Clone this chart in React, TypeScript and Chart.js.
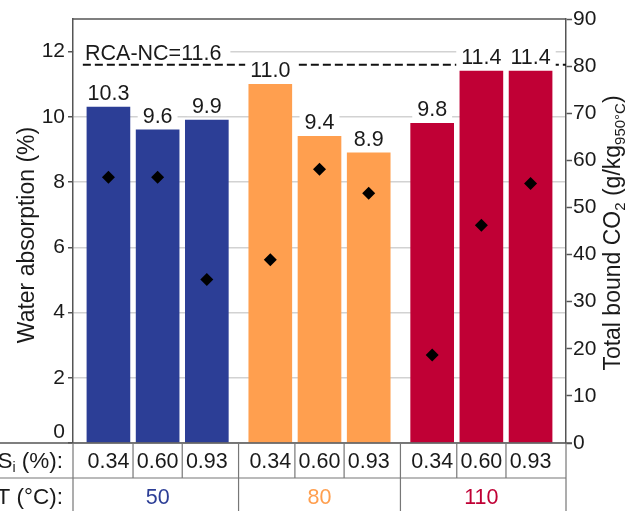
import React, { useEffect, useRef } from 'react';
import { Chart, registerables } from 'chart.js';

Chart.register(...registerables);

// ---------- data ----------
const TEMPERATURES = ['50', '80', '110'];
const SI_LEVELS = ['0.34', '0.60', '0.93'];
const WATER_ABSORPTION = [10.3, 9.6, 9.9, 11.0, 9.4, 8.9, 9.8, 11.4, 11.4];
const BOUND_CO2 = [56.4, 56.4, 34.7, 38.9, 58.1, 53.0, 18.7, 46.2, 55.1];
const RCA_NC = 11.6;
const LEFT_TICKS = [0, 2, 4, 6, 8, 10, 12];
const RIGHT_TICKS = [0, 10, 20, 30, 40, 50, 60, 70, 80, 90];

// ---------- styles / layout ----------
const GROUP_COLORS = ['#2c3e96', '#ff9f4f', '#c00035'];
const FONT = "'Liberation Sans', Arial, sans-serif";
const TEXT = '#1a1a1a';
const AXIS = '#555';
const LABEL_SIZE = 21.5;
const GROUP_GAP = 0.29;
const EDGE = 0.72;

const N_PER_GROUP = SI_LEVELS.length;
const pos = (i: number) => i + Math.floor(i / N_PER_GROUP) * GROUP_GAP;
const X_MIN = -EDGE;
const X_MAX = pos(WATER_ABSORPTION.length - 1) + EDGE;

type Part = { t: string; size: number; dy: number };

function richWidth(ctx: CanvasRenderingContext2D, parts: Part[]) {
  let w = 0;
  parts.forEach((p) => {
    ctx.font = `${p.size}px ${FONT}`;
    w += ctx.measureText(p.t).width;
  });
  return w;
}

function drawRich(
  ctx: CanvasRenderingContext2D,
  parts: Part[],
  x: number,
  y: number,
  rot: number,
  align: 'center' | 'right',
  color: string
) {
  ctx.save();
  ctx.translate(x, y);
  ctx.rotate(rot);
  const total = richWidth(ctx, parts);
  let cx = align === 'center' ? -total / 2 : -total;
  ctx.textAlign = 'left';
  ctx.textBaseline = 'alphabetic';
  ctx.fillStyle = color;
  parts.forEach((p) => {
    ctx.font = `${p.size}px ${FONT}`;
    ctx.fillText(p.t, cx, p.dy);
    cx += ctx.measureText(p.t).width;
  });
  ctx.restore();
}

const overlay = {
  id: 'overlay',
  afterDatasetsDraw(chart: any) {
    const ctx: CanvasRenderingContext2D = chart.ctx;
    const { left } = chart.chartArea;
    const meta = chart.getDatasetMeta(1);
    ctx.save();
    ctx.font = `${LABEL_SIZE}px ${FONT}`;
    ctx.textBaseline = 'alphabetic';
    ctx.textAlign = 'center';
    meta.data.forEach((bar: any, i: number) => {
      const text = WATER_ABSORPTION[i].toFixed(1);
      const w = ctx.measureText(text).width;
      const base = bar.y - 7;
      ctx.fillStyle = '#fff';
      ctx.fillRect(bar.x - w / 2 - 5, base - 19, w + 10, 22);
      ctx.fillStyle = TEXT;
      ctx.fillText(text, bar.x, base);
    });
    // reference label
    const yRef = chart.scales.y.getPixelForValue(RCA_NC);
    const label = `RCA-NC=${RCA_NC.toFixed(1)}`;
    const lw = ctx.measureText(label).width;
    const lx = left + 12;
    const lb = yRef - 5;
    ctx.fillStyle = '#fff';
    ctx.fillRect(left + 1, lb - 18, lx - left + lw + 8, 20);
    ctx.textAlign = 'left';
    ctx.fillStyle = TEXT;
    ctx.fillText(label, lx, lb);
    ctx.restore();
  },
  afterDraw(chart: any) {
    const ctx: CanvasRenderingContext2D = chart.ctx;
    const { left, right, top, bottom } = chart.chartArea;
    const H = chart.height;
    const xs = chart.scales.x;
    const row1 = bottom + 35;
    ctx.save();
    // top border
    ctx.strokeStyle = AXIS;
    ctx.lineWidth = 1.5;
    ctx.beginPath();
    ctx.moveTo(left, top);
    ctx.lineTo(right, top);
    ctx.stroke();
    // table lines
    ctx.beginPath();
    ctx.moveTo(0, bottom);
    ctx.lineTo(right + 6, bottom);
    ctx.stroke();
    ctx.strokeStyle = '#777';
    ctx.lineWidth = 1.2;
    ctx.beginPath();
    ctx.moveTo(0, row1);
    ctx.lineTo(right, row1);
    ctx.moveTo(left, bottom);
    ctx.lineTo(left, H);
    ctx.moveTo(right, bottom);
    ctx.lineTo(right, H);
    for (let i = 0; i < WATER_ABSORPTION.length - 1; i++) {
      const mid = xs.getPixelForValue((pos(i) + pos(i + 1)) / 2);
      const groupEnd = (i + 1) % N_PER_GROUP === 0;
      ctx.moveTo(mid, bottom);
      ctx.lineTo(mid, groupEnd ? H : row1);
    }
    ctx.stroke();
    // table text
    ctx.font = `${LABEL_SIZE}px ${FONT}`;
    ctx.textAlign = 'center';
    ctx.textBaseline = 'alphabetic';
    ctx.fillStyle = TEXT;
    WATER_ABSORPTION.forEach((_, i) => {
      ctx.fillText(SI_LEVELS[i % N_PER_GROUP], xs.getPixelForValue(pos(i)), bottom + 25);
    });
    TEMPERATURES.forEach((t, g) => {
      ctx.fillStyle = GROUP_COLORS[g];
      ctx.fillText(t, xs.getPixelForValue(pos(g * N_PER_GROUP + 1)), row1 + 26);
    });
    // row labels
    drawRich(
      ctx,
      [
        { t: 'S', size: 22.5, dy: 0 },
        { t: 'i', size: 14, dy: 4 },
        { t: ' (%):', size: 22.5, dy: 0 },
      ],
      63,
      bottom + 25,
      0,
      'right',
      TEXT
    );
    drawRich(ctx, [{ t: 'T (°C):', size: 22.5, dy: 0 }], 63, row1 + 26, 0, 'right', TEXT);
    // left zero label (sits above the table line)
    ctx.font = `21px ${FONT}`;
    ctx.textAlign = 'right';
    ctx.textBaseline = 'alphabetic';
    ctx.fillStyle = TEXT;
    ctx.fillText('0', 65, bottom - 5);
    // axis titles
    const cy = (top + bottom) / 2;
    drawRich(ctx, [{ t: 'Water absorption (%)', size: 23, dy: 0 }], 34, cy + 4, -Math.PI / 2, 'center', TEXT);
    drawRich(
      ctx,
      [
        { t: 'Total bound CO', size: 23, dy: 0 },
        { t: '2', size: 15, dy: 5 },
        { t: ' (g/kg', size: 23, dy: 0 },
        { t: '950°C', size: 15, dy: 5 },
        { t: ')', size: 23, dy: 0 },
      ],
      620,
      cy + 2,
      -Math.PI / 2,
      'center',
      TEXT
    );
    ctx.restore();
  },
};

export default function App() {
  const ref = useRef<HTMLCanvasElement>(null);

  useEffect(() => {
    const canvas = ref.current;
    if (!canvas) return;
    const barPoints = WATER_ABSORPTION.map((v, i) => ({ x: pos(i), y: v }));
    const co2Points = BOUND_CO2.map((v, i) => ({ x: pos(i), y: v }));
    const barColors = WATER_ABSORPTION.map((_, i) => GROUP_COLORS[Math.floor(i / N_PER_GROUP)]);
    const refPoints = [
      { x: X_MIN + 0.2, y: RCA_NC },
      { x: X_MAX, y: RCA_NC },
    ];

    const chart = new Chart(canvas, {
      type: 'bar',
      data: {
        datasets: [
          {
            type: 'scatter',
            data: co2Points,
            yAxisID: 'y1',
            pointStyle: 'rectRot',
            pointRadius: 6.5,
            pointHoverRadius: 6.5,
            backgroundColor: '#000',
            borderColor: '#000',
            borderWidth: 0,
            order: 0,
          } as any,
          {
            type: 'bar',
            data: barPoints,
            yAxisID: 'y',
            backgroundColor: barColors,
            barThickness: 43,
            order: 1,
          } as any,
          {
            type: 'line',
            data: refPoints,
            yAxisID: 'y',
            borderColor: '#111',
            borderWidth: 2,
            borderDash: [8, 4],
            pointRadius: 0,
            fill: false,
            order: 2,
          } as any,
        ],
      },
      options: {
        animation: false,
        responsive: true,
        maintainAspectRatio: false,
        layout: { padding: { top: 19, left: 0, right: 0, bottom: 68 } },
        plugins: { legend: { display: false }, tooltip: { enabled: false } },
        font: { family: FONT },
        scales: {
          x: {
            type: 'linear',
            display: false,
            min: X_MIN,
            max: X_MAX,
            offset: false,
          },
          y: {
            type: 'linear',
            position: 'left',
            min: 0,
            max: 13,
            afterBuildTicks: (s: any) => {
              s.ticks = LEFT_TICKS.map((v) => ({ value: v }));
            },
            afterFit: (s: any) => {
              s.width = 73;
            },
            ticks: {
              font: { size: 21, family: FONT },
              color: TEXT,
              padding: 3,
              callback: (v: any) => (v === 0 ? '' : String(v)),
            },
            grid: {
              color: '#d2d2d2',
              lineWidth: 1.5,
              tickLength: 5,
              tickColor: AXIS,
              tickWidth: 1.5,
            },
            border: { display: true, color: AXIS, width: 1.5 },
          },
          y1: {
            type: 'linear',
            position: 'right',
            min: 0,
            max: 90,
            afterBuildTicks: (s: any) => {
              s.ticks = RIGHT_TICKS.map((v) => ({ value: v }));
            },
            afterFit: (s: any) => {
              s.width = 74;
            },
            ticks: {
              font: { size: 21, family: FONT },
              color: TEXT,
              padding: 1,
            },
            grid: {
              drawOnChartArea: false,
              tickLength: 6,
              tickColor: AXIS,
              tickWidth: 1.5,
            },
            border: { display: true, color: AXIS, width: 1.5 },
          },
        },
      } as any,
      plugins: [overlay],
    });
    return () => chart.destroy();
  }, []);

  return (
    <div style={{ position: 'fixed', left: 0, top: 0, width: 640, height: 511, background: '#fff' }}>
      <canvas ref={ref} />
    </div>
  );
}
